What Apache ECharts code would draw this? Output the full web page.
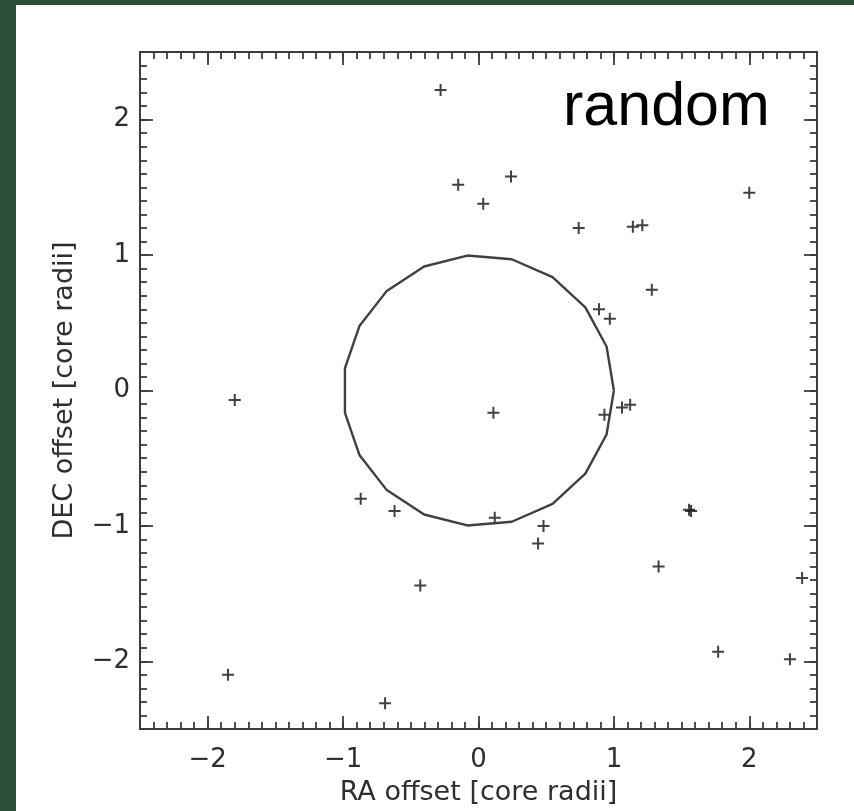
<!DOCTYPE html>
<html>
<head>
<meta charset="utf-8">
<script src="https://cdn.jsdelivr.net/npm/echarts@6/dist/echarts.min.js"></script>
<style>
  html, body { margin: 0; padding: 0; background: #2b4e38; }
  #panel { position: absolute; left: 16px; top: 5px; width: 838px; height: 806px; background: #ffffff; }
  #chart { position: absolute; left: 0; top: 0; width: 854px; height: 811px; }
</style>
</head>
<body>
<div id="panel"></div>
<div id="chart"></div>
<script>
// Source offsets relative to the cluster centre, in core radii
const raOffset = [
  -0.28, -0.15, 0.035, 0.24, 0.74, 1.14, 1.21, 2.00, 1.28, 0.89, 0.97,
  -1.80, -0.87, -0.62, -0.43, -1.85, -0.69,
  0.11, 0.93, 1.06, 1.12, 0.12, 0.48, 0.44, 1.555, 1.57, 1.33, 2.39, 1.77, 2.30
];
const decOffset = [
  2.22, 1.52, 1.38, 1.58, 1.20, 1.21, 1.22, 1.46, 0.745, 0.60, 0.53,
  -0.07, -0.80, -0.89, -1.44, -2.10, -2.31,
  -0.165, -0.18, -0.125, -0.105, -0.94, -1.00, -1.13, -0.88, -0.89, -1.30, -1.385, -1.93, -1.985
];

// Axis ranges and labelled ticks
const axisMin = -2.5;
const axisMax = 2.5;
const majorTicks = [-2, -1, 0, 1, 2];
const minorStep = 0.1;

// Core circle: radius 1, traced as a 19-sided outline
const coreRadius = 1;
const circleSegments = 19;
const corePath = [];
for (let i = 0; i <= circleSegments; i++) {
  const t = 2 * Math.PI * i / circleSegments;
  corePath.push([coreRadius * Math.cos(t), coreRadius * Math.sin(t)]);
}

const points = raOffset.map((x, i) => [x, decOffset[i]]);

const lineColor = '#3c3c3c';
const textColor = '#2e2e2e';
const fmt = v => (v < 0 ? '\u2212' + Math.abs(v) : String(v));

function majorAxis(position, withLabels, name, extra) {
  return Object.assign({
    type: 'value',
    position: position,
    min: axisMin,
    max: axisMax,
    interval: 0.5,
    splitLine: { show: false },
    axisLine: { show: true, onZero: false, lineStyle: { color: lineColor, width: 2 } },
    axisTick: { show: true, inside: true, length: 13, customValues: majorTicks,
                lineStyle: { color: lineColor, width: 1.8 } },
    axisLabel: { show: withLabels, customValues: majorTicks, formatter: fmt,
                 color: textColor, fontFamily: 'DejaVu Sans', fontSize: 26 },
    name: name || '',
    nameLocation: 'middle',
    nameTextStyle: { color: textColor, fontFamily: 'DejaVu Sans', fontSize: 27 }
  }, extra || {});
}

function minorAxis(position) {
  return {
    type: 'value',
    position: position,
    min: axisMin,
    max: axisMax,
    interval: minorStep,
    splitLine: { show: false },
    axisLine: { show: false, onZero: false },
    axisTick: { show: true, inside: true, length: 7, lineStyle: { color: lineColor, width: 1.8 } },
    axisLabel: { show: false }
  };
}

const chart = echarts.init(document.getElementById('chart'), null, { renderer: 'canvas' });

chart.setOption({
  backgroundColor: 'transparent',
  animation: false,
  grid: { left: 140, right: 37, top: 52, bottom: 81 },
  xAxis: [
    majorAxis('bottom', true, 'RA offset [core radii]', { nameGap: 50, axisLabel: {
      show: true, customValues: majorTicks, formatter: fmt, margin: 18,
      color: textColor, fontFamily: 'DejaVu Sans', fontSize: 26 } }),
    minorAxis('bottom'),
    majorAxis('top', false),
    minorAxis('top')
  ],
  yAxis: [
    majorAxis('left', true, 'DEC offset [core radii]', { nameGap: 62, axisLabel: {
      show: true, customValues: majorTicks, formatter: fmt, margin: 10,
      color: textColor, fontFamily: 'DejaVu Sans', fontSize: 26 } }),
    minorAxis('left'),
    majorAxis('right', false),
    minorAxis('right')
  ],
  graphic: [{
    type: 'text',
    left: 563,
    top: 78,
    style: { text: 'random', fill: '#000000', font: '61px "Liberation Sans", Arial, sans-serif' }
  }],
  series: [
    {
      type: 'line',
      data: corePath,
      xAxisIndex: 0,
      yAxisIndex: 0,
      showSymbol: false,
      symbol: 'none',
      lineStyle: { color: '#404040', width: 2.4 },
      silent: true
    },
    {
      type: 'scatter',
      data: points,
      xAxisIndex: 0,
      yAxisIndex: 0,
      symbol: 'path://M5,0h2v12h-2z M0,5h12v2h-12z',
      symbolSize: 12,
      itemStyle: { color: '#111111' },
      silent: true
    }
  ]
});
</script>
</body>
</html>
